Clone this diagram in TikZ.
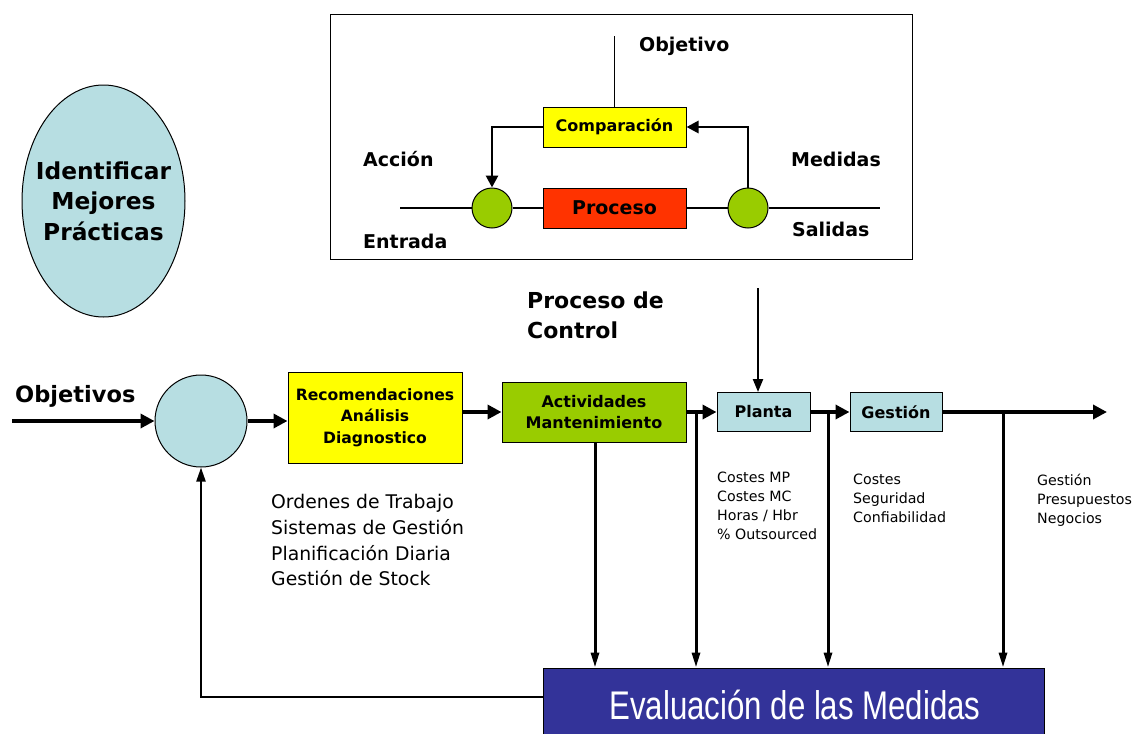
\documentclass[tikz,border=0pt]{standalone}
\usepackage{fontspec}
\setmainfont{DejaVu Sans}
\newfontfamily\narrowfont[FakeStretch=0.78]{Liberation Sans}
\usetikzlibrary{arrows.meta,shapes.geometric}
\definecolor{lblue}{HTML}{B7DEE2}
\definecolor{yel}{HTML}{FFFF00}
\definecolor{procred}{HTML}{FF3300}
\definecolor{lgreen}{HTML}{99CC00}
\definecolor{evalblue}{HTML}{333399}
\newcommand{\fsz}[1]{\fontsize{#1}{#1}\selectfont}
\tikzset{
  box/.style={draw=black, line width=1pt, inner sep=0pt, align=center},
  lbl/.style={inner sep=0pt, font=\bfseries\fsz{19}},
  thinline/.style={line width=1.2pt},
  medarrow/.style={line width=2.8pt, -{Triangle[length=12pt,width=12pt]}},
  bigarrow/.style={line width=4.5pt, -{Triangle[length=14pt,width=14pt]}},
  droparrow/.style={line width=3pt, -{Triangle[length=15pt,width=8pt]}},
  txtblock/.style={inner sep=0pt, anchor=north west, align=left},
}
\begin{document}
\begin{tikzpicture}[x=1pt,y=-1pt]
\useasboundingbox (0,0) rectangle (1136,734);
\fill[white] (0,0) rectangle (1136,734);

% ---- control process panel
\node[draw=black, line width=1pt, minimum width=582pt, minimum height=245pt, inner sep=0pt] (panel) at (621,136.5) {};
\node[box, fill=yel, minimum width=143pt, minimum height=40pt, font=\bfseries\fsz{16}] (comp) at (614.5,127) {Comparación};
\node[box, fill=procred, minimum width=143pt, minimum height=40pt, font=\bfseries\fsz{19}] (proc) at (614.5,208) {Proceso};
\node[draw=black, line width=1pt, circle, fill=lgreen, minimum size=40pt, inner sep=0pt] (lc) at (492,208) {};
\node[draw=black, line width=1pt, circle, fill=lgreen, minimum size=40pt, inner sep=0pt] (rc) at (748,208) {};
\coordinate (objtop) at (614.5,36);
\coordinate (inL) at (400,208);
\coordinate (outR) at (880,208);
\node[lbl, anchor=west] (objetivo) at (639,46) {Objetivo};
\node[lbl, anchor=west] (accion) at (363,159) {Acción};
\node[lbl, anchor=west] (medidas) at (791,159) {Medidas};
\node[lbl, anchor=west] (entrada) at (363,241) {Entrada};
\node[lbl, anchor=west] (salidas) at (792,229) {Salidas};
\draw[thinline] (comp.north) -- (objtop);
\draw[medarrow] (comp.west) -| (lc.north);
\draw[medarrow] (rc.north) |- (comp.east);
\draw[thinline] (inL) -- (lc.west);
\draw[thinline] (lc.east) -- (proc.west);
\draw[thinline] (proc.east) -- (rc.west);
\draw[thinline] (rc.east) -- (outR);

% ---- ellipse
\node[draw=black, line width=1pt, ellipse, fill=lblue, minimum width=163pt, minimum height=232pt, inner sep=0pt] (best) at (103.5,201) {};
\node[inner sep=0pt, align=center, font=\bfseries\fsz{23.3}] (besttxt) at (best.center) {Identificar\\[6.7pt]Mejores\\[6.7pt]Prácticas};

\node[inner sep=0pt, anchor=north west, align=left, font=\bfseries\fsz{22}] (pc) at (527,292) {Proceso de\\[8pt]Control};

% ---- main chain
\node[lbl, anchor=west, font=\bfseries\fsz{22.5}] (objs) at (15,396) {Objetivos};
\coordinate (start) at (12,421);
\node[draw=black, line width=1pt, circle, fill=lblue, minimum size=92pt, inner sep=0pt] (sum) at (201,421) {};
\node[box, fill=yel, minimum width=174pt, minimum height=91pt, font=\bfseries\fsz{15.6}] (rec) at (375,417.5) {Recomendaciones\\[6pt]Análisis\\[6pt]Diagnostico};
\node[box, fill=lgreen, minimum width=184pt, minimum height=60pt, font=\bfseries\fsz{16}] (act) at (594,412) {Actividades\\[5pt]Mantenimiento};
\node[box, fill=lblue, minimum width=93pt, minimum height=39pt, font=\bfseries\fsz{16}] (planta) at (763.5,412) {Planta};
\node[box, fill=lblue, minimum width=92pt, minimum height=39pt, font=\bfseries\fsz{16}] (gest) at (896,412) {Gestión};
\coordinate (endR) at (1107,412);
\coordinate (ctrltop) at (758,288);

\draw[bigarrow] (start) -- (sum.west);
\draw[bigarrow] (sum.east) -- (sum.east -| rec.west);
\draw[bigarrow] (rec.east |- act.west) -- (act.west);
\draw[bigarrow] (act.east) -- (planta.west);
\draw[bigarrow] (planta.east) -- (gest.west);
\draw[bigarrow] (gest.east) -- (endR);
\draw[line width=2.2pt, -{Triangle[length=13pt,width=10pt]}] (ctrltop) -- (ctrltop |- planta.north);

% ---- text lists
\node[txtblock, font=\fsz{18.8}] (ot) at (271,494) {Ordenes de Trabajo\\[6.5pt]Sistemas de Gestión\\[6.5pt]Planificación Diaria\\[6.5pt]Gestión de Stock};
\node[txtblock, font=\fsz{14.2}] (costs1) at (717,472) {Costes MP\\[4.8pt]Costes MC\\[4.8pt]Horas / Hbr\\[4.8pt]\% Outsourced};
\node[txtblock, font=\fsz{14.2}] (costs2) at (853,474) {Costes\\[4.8pt]Seguridad\\[4.8pt]Confiabilidad};
\node[txtblock, font=\fsz{14.2}] (costs3) at (1037,474) {Gestión\\[4.8pt]Presupuestos\\[4.8pt]Negocios};

% ---- evaluation
\node[draw=black, line width=1pt, fill=evalblue, minimum width=501pt, minimum height=90pt, inner sep=0pt] (eval) at (793.5,713) {};
\node[inner sep=0pt, text=white, font=\narrowfont\fsz{40}] (evaltxt) at (795,705) {Evaluación de las Medidas};

\coordinate (j1) at (696,412);
\coordinate (j2) at (828,412);
\coordinate (j3) at (1003,412);
\coordinate (fb) at (543,697);
\draw[droparrow] (act.south -| 595,0) -- (eval.north -| 595,0);
\draw[droparrow] (j1) -- (j1 |- eval.north);
\draw[droparrow] (j2) -- (j2 |- eval.north);
\draw[droparrow] (j3) -- (j3 |- eval.north);
\draw[line width=2.2pt, -{Triangle[length=14pt,width=9pt]}] (fb) -| (sum.south);
\end{tikzpicture}
\end{document}
